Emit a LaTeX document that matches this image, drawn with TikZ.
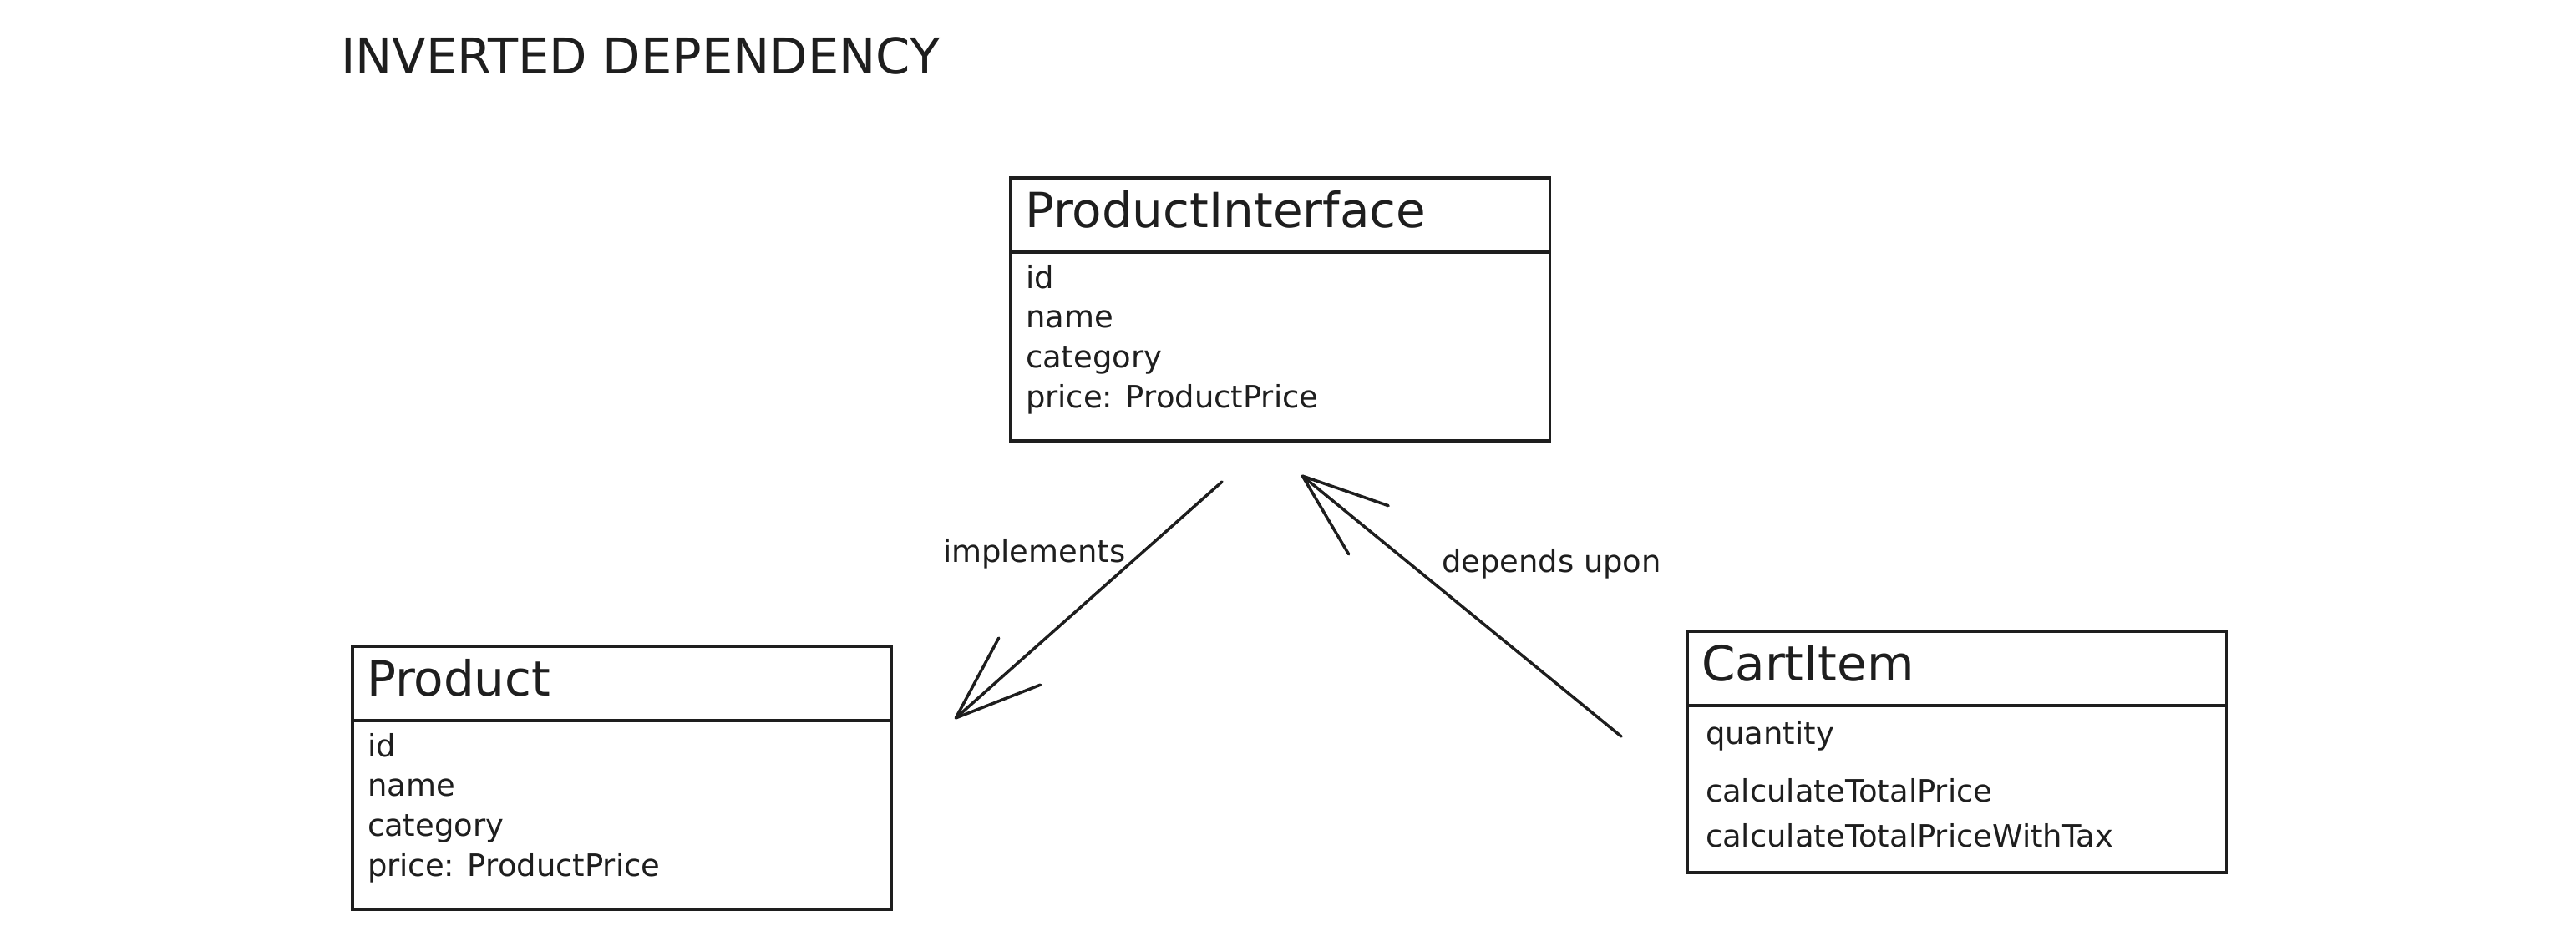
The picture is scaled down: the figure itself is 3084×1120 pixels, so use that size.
\documentclass[tikz,border=0pt]{standalone}
\usepackage{fontspec}
\setmainfont{DejaVu Sans}
\usetikzlibrary{positioning, arrows.meta}
\definecolor{ink}{HTML}{1E1E1E}

\begin{document}
\begin{tikzpicture}[x=0.01cm, y=-0.01cm,
	every node/.style={text=ink, outer sep=0pt},
	classhead/.style={draw=ink, line width=1pt, text width=6.11cm, inner xsep=0.17cm,
		inner ysep=0.15cm, text height=0.44cm, text depth=0.15cm, align=left,
		font=\fontsize{16.5pt}{19pt}\selectfont},
	classbody/.style={draw=ink, line width=1pt, minimum width=6.45cm, inner sep=0pt},
	members/.style={inner sep=0pt, align=left, font=\fontsize{10.5pt}{13.6pt}\selectfont},
	relation/.style={draw=ink, line width=1pt, line cap=round, ->,
		>={Straight Barb[length=1.02cm, width=0.75cm, round]}},
	]
	\useasboundingbox (0,0) rectangle (3084,1120);
	\node[anchor=base west, inner sep=0pt, font=\fontsize{16.8pt}{20pt}\selectfont]
	(title) at (408,88) {INVERTED DEPENDENCY};
	% interface
	\node[classhead, anchor=north west] (piHead) at (1210,213) {ProductInterface};
	\node[classbody, below=0pt of piHead, minimum height=2.26cm] (piBody) {};
	\node[members, anchor=north west] (piMembers) at ([xshift=0.18cm, yshift=-0.15cm]piBody.north west)
	{id\\name\\category\\price: ProductPrice};
	% product
	\node[classhead, anchor=north west] (prodHead) at (422,774) {Product};
	\node[classbody, below=0pt of prodHead, minimum height=2.26cm] (prodBody) {};
	\node[members, anchor=north west] (prodMembers) at ([xshift=0.18cm, yshift=-0.15cm]prodBody.north west)
	{id\\name\\category\\price: ProductPrice};
	% cart item
	\node[classhead, anchor=north west] (cartHead) at (2020,756) {CartItem};
	\node[classbody, below=0pt of cartHead, minimum height=2.0cm] (cartBody) {};
	\node[members, anchor=north west, font=\fontsize{10.5pt}{15.6pt}\selectfont] (cartMembers)
	at ([xshift=0.22cm, yshift=-0.18cm]cartBody.north west)
	{quantity\\[4pt]calculateTotalPrice\\calculateTotalPriceWithTax};
	% relations
	\coordinate (implFrom) at (1463,577);
	\coordinate (implTo) at (1143,861);
	\coordinate (depFrom) at (1941,882);
	\coordinate (depTo) at (1558,569);
	\draw[relation] (implFrom) -- (implTo);
	\draw[relation] (depFrom) -- (depTo);
	\node[members, anchor=base west] (implLabel) at (1129,673) {implements};
	\node[members, anchor=base west] (depLabel) at (1726,685) {depends upon};
\end{tikzpicture}
\end{document}
